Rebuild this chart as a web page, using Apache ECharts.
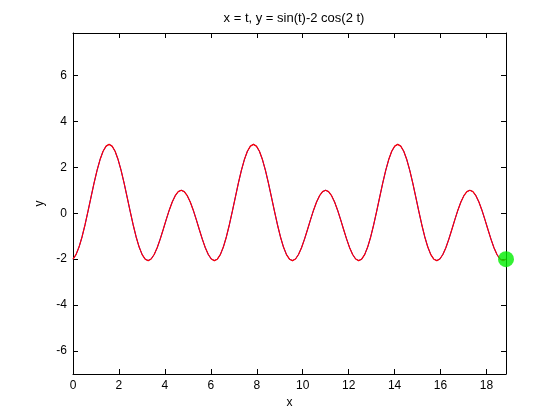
<!DOCTYPE html>
<html>
<head>
<meta charset="utf-8">
<script src="https://cdn.jsdelivr.net/npm/echarts@6/dist/echarts.min.js"></script>
<style>html,body{margin:0;padding:0;background:#fff}#c{width:560px;height:420px}</style>
</head>
<body>
<div id="c"></div>
<script>
var titleText = 'x = t, y = sin(t)-2 cos(2 t)';
var xLabel = 'x';
var yLabel = 'y';
var xTicks = [0, 2, 4, 6, 8, 10, 12, 14, 16, 18];
var yTicks = [-6, -4, -2, 0, 2, 4, 6];
var tValues = [0, 0.131, 0.262, 0.393, 0.524, 0.654, 0.785, 0.916, 1.047, 1.178, 1.309, 1.440, 1.571, 1.702, 1.833, 1.963, 2.094, 2.225, 2.356, 2.487, 2.618, 2.749, 2.880, 3.011, 3.142,
  3.272, 3.403, 3.534, 3.665, 3.796, 3.927, 4.058, 4.189, 4.320, 4.451, 4.581, 4.712, 4.843, 4.974, 5.105, 5.236, 5.367, 5.498, 5.629, 5.760, 5.890, 6.021, 6.152, 6.283,
  6.414, 6.545, 6.676, 6.807, 6.938, 7.069, 7.199, 7.330, 7.461, 7.592, 7.723, 7.854, 7.985, 8.116, 8.247, 8.378, 8.508, 8.639, 8.770, 8.901, 9.032, 9.163, 9.294, 9.425,
  9.556, 9.687, 9.817, 9.948, 10.079, 10.210, 10.341, 10.472, 10.603, 10.734, 10.865, 10.996, 11.126, 11.257, 11.388, 11.519, 11.650, 11.781, 11.912, 12.043, 12.174, 12.305, 12.435, 12.566,
  12.697, 12.828, 12.959, 13.090, 13.221, 13.352, 13.483, 13.614, 13.744, 13.875, 14.006, 14.137, 14.268, 14.399, 14.530, 14.661, 14.792, 14.923, 15.053, 15.184, 15.315, 15.446, 15.577, 15.708,
  15.839, 15.970, 16.101, 16.232, 16.362, 16.493, 16.624, 16.755, 16.886, 17.017, 17.148, 17.279, 17.410, 17.540, 17.671, 17.802, 17.933, 18.064, 18.195, 18.326, 18.457, 18.588, 18.719, 18.850];
var yValues = [-2, -1.801, -1.473, -1.032, -0.5, 0.091, 0.707, 1.311, 1.866, 2.338, 2.698, 2.923, 3, 2.923, 2.698, 2.338, 1.866, 1.311, 0.707, 0.091, -0.5, -1.032, -1.473, -1.801,
  -2, -2.062, -1.991, -1.797, -1.5, -1.126, -0.707, -0.276, 0.134, 0.490, 0.766, 0.941, 1, 0.941, 0.766, 0.490, 0.134, -0.276, -0.707, -1.126, -1.5, -1.797, -1.991, -2.062,
  -2, -1.801, -1.473, -1.032, -0.5, 0.091, 0.707, 1.311, 1.866, 2.338, 2.698, 2.923, 3, 2.923, 2.698, 2.338, 1.866, 1.311, 0.707, 0.091, -0.5, -1.032, -1.473, -1.801,
  -2, -2.062, -1.991, -1.797, -1.5, -1.126, -0.707, -0.276, 0.134, 0.490, 0.766, 0.941, 1, 0.941, 0.766, 0.490, 0.134, -0.276, -0.707, -1.126, -1.5, -1.797, -1.991, -2.062,
  -2, -1.801, -1.473, -1.032, -0.5, 0.091, 0.707, 1.311, 1.866, 2.338, 2.698, 2.923, 3, 2.923, 2.698, 2.338, 1.866, 1.311, 0.707, 0.091, -0.5, -1.032, -1.473, -1.801,
  -2, -2.062, -1.991, -1.797, -1.5, -1.126, -0.707, -0.276, 0.134, 0.490, 0.766, 0.941, 1, 0.941, 0.766, 0.490, 0.134, -0.276, -0.707, -1.126, -1.5, -1.797, -1.991, -2.062,
  -2];
var endPoint = [[18.850, -2]];

var pts = tValues.map(function (t, i) { return [t, yValues[i]]; });
var font = 'Liberation Sans, Arial, sans-serif';
var XMIN = 0, XMAX = 18.85, YMIN = -7, YMAX = 7.85;

function axisCommon(showLabel, ticks) {
  return {
    type: 'value',
    axisLine: { show: true, onZero: false, lineStyle: { color: '#000', width: 1 } },
    axisTick: { show: true, inside: true, length: 5, lineStyle: { color: '#000' }, customValues: ticks },
    axisLabel: { show: showLabel, color: '#000', fontFamily: font, fontSize: 12, margin: 6, customValues: ticks },
    splitLine: { show: false }
  };
}

var xb = axisCommon(true, xTicks);
Object.assign(xb, { min: XMIN, max: XMAX, position: 'bottom', name: xLabel, nameLocation: 'middle', nameGap: 22,
  nameTextStyle: { color: '#000', fontFamily: font, fontSize: 12 } });
var xt = axisCommon(false, xTicks);
Object.assign(xt, { min: XMIN, max: XMAX, position: 'top' });
var yl = axisCommon(true, yTicks);
Object.assign(yl, { min: YMIN, max: YMAX, position: 'left', name: yLabel, nameLocation: 'middle', nameGap: 20,
  nameTextStyle: { color: '#000', fontFamily: font, fontSize: 12 } });
var yr = axisCommon(false, yTicks);
Object.assign(yr, { min: YMIN, max: YMAX, position: 'right' });

var chart = echarts.init(document.getElementById('c'), null, { renderer: 'canvas' });
chart.setOption({
  animation: false,
  backgroundColor: '#fff',
  title: { text: titleText, left: 289, top: 7, textAlign: 'center',
    textStyle: { color: '#000', fontFamily: font, fontSize: 13, fontWeight: 'normal' } },
  grid: { left: 73, right: 54, top: 33, bottom: 46, containLabel: false },
  xAxis: [xb, xt],
  yAxis: [yl, yr],
  series: [
    { type: 'line', data: pts, xAxisIndex: 0, yAxisIndex: 0, showSymbol: false, smooth: false,
      lineStyle: { color: '#0000ff', width: 1 }, z: 2 },
    { type: 'line', data: pts, xAxisIndex: 0, yAxisIndex: 0, showSymbol: false, smooth: false,
      lineStyle: { color: '#ff0000', width: 1.2 }, z: 3 },
    { type: 'scatter', data: endPoint, xAxisIndex: 0, yAxisIndex: 0, symbolSize: 16,
      itemStyle: { color: '#00ee00' }, z: 4 }
  ]
});
</script>
</body>
</html>
